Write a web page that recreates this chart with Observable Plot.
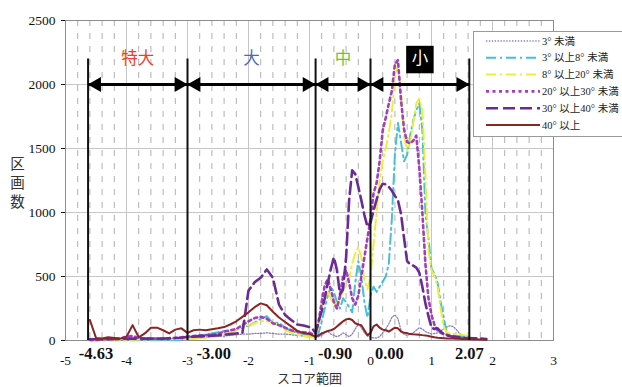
<!DOCTYPE html>
<html><head><meta charset="utf-8">
<script src="https://cdn.jsdelivr.net/npm/d3@7"></script>
<script src="https://cdn.jsdelivr.net/npm/@observablehq/plot@0.6"></script>
<style>
html,body{margin:0;padding:0;background:#fff;}
#wrap{position:relative;width:622px;height:387px;overflow:hidden;}
#legend{position:absolute;left:473px;top:31px;width:149px;height:106px;border:1px solid #9a9a9a;border-right:none;background:#fff;box-sizing:border-box;}
#legend svg{display:block;}
</style></head><body><div id="wrap"><div id="chart"></div><div id="legend"></div></div>
<script>
// x grid (score) shared by every series
const score = [-4.6,-4.5,-4.4,-4.3,-4.2,-4.1,-4.0,-3.9,-3.8,-3.7,-3.6,-3.5,-3.4,-3.3,-3.2,-3.1,-3.0,-2.9,-2.8,-2.7,-2.6,-2.5,-2.4,-2.3,-2.2,-2.1,-2.0,-1.9,-1.8,-1.7,-1.6,-1.5,-1.4,-1.3,-1.2,-1.1,-1.0,
  -0.95,-0.9,-0.85,-0.8,-0.75,-0.7,-0.65,-0.6,-0.55,-0.5,-0.45,-0.4,-0.35,-0.3,-0.25,-0.2,-0.15,-0.1,-0.05,0,0.05,0.1,0.15,0.2,0.25,0.3,0.35,0.4,0.45,0.5,0.55,0.6,0.65,0.7,0.75,0.8,0.85,0.9,0.95,1.0,1.05,1.1,1.15,1.2,1.25,1.3,1.35,1.4,1.45,1.5,1.55,1.6,
  1.7,1.8,1.9];

const slopeLt3 = [3,3,3,3,3,3,3,3,3,3,3,3,3,3,3,5,10,15,20,25,30,35,35,40,45,50,50,55,55,60,55,50,50,45,40,35,30,
  25,20,30,40,60,70,50,40,30,40,60,45,30,50,90,130,100,60,40,25,20,20,30,60,90,130,180,200,170,80,50,40,50,60,80,100,90,70,60,50,55,60,75,90,105,115,110,90,60,40,25,15,
  null,null,null];
const slope3to8 = [2,2,2,2,2,2,2,2,2,2,2,2,2,2,2,2,20,30,40,45,55,65,75,60,85,100,115,140,170,190,135,140,100,75,60,50,45,
  30,20,60,150,250,350,420,380,300,250,330,300,260,220,450,620,500,300,180,350,420,380,420,460,500,600,950,1450,1700,1550,1400,1450,1600,1720,1800,1850,1650,1000,800,560,520,450,300,180,60,40,40,38,36,35,32,30,
  null,null,null];
const slope8to20 = [3,3,3,5,5,5,5,5,8,8,10,10,10,10,12,12,10,12,15,20,25,35,45,60,80,100,120,135,150,150,145,115,80,60,45,35,25,
  25,30,120,250,330,380,330,280,300,330,380,430,490,600,680,730,650,470,400,500,750,1000,1250,1400,1500,1620,1780,2050,2160,1950,1600,1480,1550,1700,1850,1890,1800,1300,700,550,500,420,250,110,60,55,52,50,48,45,42,40,
  null,null,null];
const slope20to30 = [5,5,8,10,10,15,30,35,20,15,15,15,15,15,20,25,30,35,40,42,45,50,70,80,90,120,150,175,185,170,135,120,100,80,70,65,60,
  50,50,150,300,430,480,400,300,250,350,500,550,450,330,280,350,500,650,800,950,1150,1230,1400,1640,1740,1850,1950,2160,2190,1880,1650,1550,1540,1560,1600,1350,1000,600,330,200,120,80,60,50,45,35,30,25,20,18,15,12,
  10,null,null];
const slope30to40 = [10,10,10,12,12,12,15,15,15,15,15,15,15,18,20,22,28,30,32,35,38,40,45,50,55,60,390,455,490,555,490,280,200,160,125,117,105,
  90,60,150,230,330,450,560,650,550,360,400,650,1100,1330,1300,1200,1095,980,890,920,1015,1100,1180,1225,1220,1200,1170,1130,1095,990,800,620,595,585,570,530,420,290,190,100,90,95,70,50,40,35,30,28,25,22,20,20,
  18,15,12];
const slope40up = [160,20,15,25,20,15,30,120,25,55,100,100,80,55,85,95,60,80,85,80,88,95,105,125,150,185,220,260,290,275,225,180,145,110,75,58,50,
  40,30,40,55,65,75,80,90,110,130,150,165,170,160,135,125,120,80,40,60,110,125,100,85,80,70,85,100,95,70,60,58,50,48,47,45,42,40,35,30,25,22,20,18,16,15,15,14,13,12,12,12,
  10,8,5];

const seriesNames = ["3° 未満","3° 以上8° 未満","8° 以上20° 未満","20° 以上30° 未満","30° 以上40° 未満","40° 以上"];
const seriesValues = [slopeLt3, slope3to8, slope8to20, slope20to30, slope30to40, slope40up];

const boundaries = [-4.63, -3.0, -0.9, 0.0, 1.62];
const boundaryLabels = ["-4.63","-3.00","-0.90","0.00","2.07"];
const boundaryLabelAt = [-4.50, -2.57, -0.58, 0.31, 1.62];
const classNames = ["特大","大","中","小"];
const xTicks = [-5,-4,-3,-2,-1,0,1,2,3];
const yTicks = [0,500,1000,1500,2000,2500];
const xTitle = "スコア範囲";
const yTitle = "区画数";

// styles
const colors = ["#8a7cbc","#45c0d6","#eeee36","#a23fba","#6c2a94","#8b2525"];
const widths = [1.3, 2, 2, 2.6, 2.6, 2];
const dashes = ["1.3,1.6","10,4,2,4","10,4,2,4","3,3.5","12,5",null];
const classColors = ["#f0401e","#4a66c0","#5cc846","#ffffff"];
const serif = "'Liberation Serif', 'Times New Roman', serif";
const cjk = "'Noto Sans CJK JP', sans-serif";

const segments = classNames.map((name, i) => ({name, x1: boundaries[i], x2: boundaries[i + 1], color: classColors[i]}));
const minor = d3.range(-50, 31, 2).map(v => v / 10).filter(v => !Number.isInteger(v));

const lineMarks = seriesValues.map((vals, k) => Plot.line(score, {
  x: d => d, y: (d, i) => vals[i],
  stroke: colors[k], strokeWidth: widths[k], strokeDasharray: dashes[k],
  strokeLinejoin: "round"
}));

const chart = Plot.plot({
  width: 622, height: 387,
  marginLeft: 65, marginRight: 69, marginTop: 20, marginBottom: 47,
  style: {fontFamily: serif, fontSize: "13.5px", color: "#111", background: "#fff"},
  x: {domain: [-5, 3], ticks: xTicks, tickSize: 0, tickPadding: 15, tickFormat: d => `${d}`, label: null},
  y: {domain: [0, 2500], ticks: yTicks, tickSize: 4, tickPadding: 6, tickFormat: d => `${d}`, label: null},
  marks: [
    Plot.ruleX(minor, {stroke: "#b0b0b0", strokeDasharray: "6,7"}),
    Plot.ruleX(xTicks, {stroke: "#c6c6c6"}),
    Plot.ruleY(yTicks, {stroke: "#c6c6c6"}),
    Plot.frame({stroke: "#8c8c8c"}),
    ...lineMarks,
    Plot.ruleX(boundaries, {y1: 0, y2: 2200, stroke: "#111", strokeWidth: 2}),
    Plot.link(segments, {x1: "x1", x2: "x2", y1: 2000, y2: 2000, stroke: "#000", strokeWidth: 3}),
    Plot.dot(segments, {x: "x1", y: 2000, symbol: "triangle", r: 5.6, rotate: -90, dx: 8.5, fill: "#000", stroke: null}),
    Plot.dot(segments, {x: "x2", y: 2000, symbol: "triangle", r: 5.6, rotate: 90, dx: -8.5, fill: "#000", stroke: null}),
    Plot.dot(segments.filter(s => s.name === "小"), {x: d => (d.x1 + d.x2) / 2, y: 2195, symbol: "square", r: 15.5, fill: "#000", stroke: null}),
    Plot.text(segments, {x: d => (d.x1 + d.x2) / 2, y: 2200, text: "name", fill: "color", fontSize: 16.5, fontFamily: cjk}),
    Plot.text(boundaries, {x: (d, i) => boundaryLabelAt[i], y: 0, dy: 13, text: (d, i) => boundaryLabels[i], fontSize: 16.5, fontWeight: "bold", fontFamily: serif, letterSpacing: "-0.8px"}),
    Plot.text([xTitle], {frameAnchor: "bottom", dy: 42, text: d => d, fontSize: 13, fontFamily: cjk, fill: "#333"}),
    Plot.text([yTitle], {frameAnchor: "left", textAnchor: "middle", dx: -48, text: d => d, fontSize: 14.5, fontFamily: cjk, fill: "#333"})
  ]
});
// set the y title in vertical (upright) writing mode, as in the reference
d3.select(chart).selectAll("text")
  .filter(function () { return this.textContent === yTitle; })
  .attr("dy", null)
  .style("writing-mode", "vertical-rl")
  .style("letter-spacing", "4.5px");
document.getElementById("chart").appendChild(chart);

// legend
const lg = d3.select("#legend").append("svg").attr("width", 149).attr("height", 106);
seriesNames.forEach((name, k) => {
  const y = 9 + k * 16.8;
  lg.append("line").attr("x1", 12).attr("x2", 66).attr("y1", y).attr("y2", y)
    .attr("stroke", colors[k]).attr("stroke-width", widths[k])
    .attr("stroke-dasharray", dashes[k]);
  lg.append("text").attr("x", 68).attr("y", y).attr("dy", "0.35em")
    .attr("font-size", 10.5).attr("font-family", "'Liberation Serif', 'Noto Sans CJK JP', serif")
    .attr("fill", "#222").text(name);
});
</script>
</body></html>
